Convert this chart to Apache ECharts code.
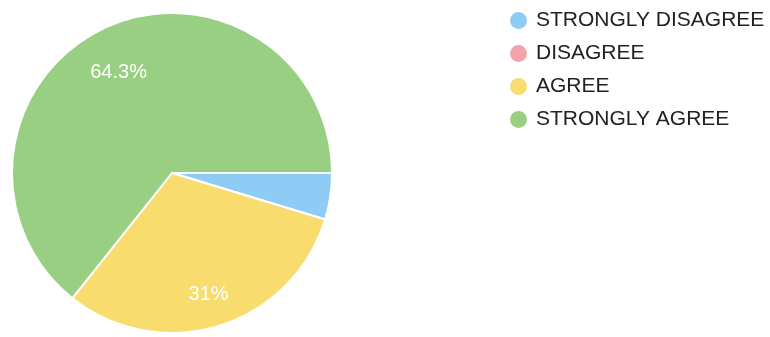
<!DOCTYPE html>
<html>
<head>
<meta charset="utf-8">
<script src="https://cdn.jsdelivr.net/npm/echarts@6/dist/echarts.min.js"></script>
<style>html,body{margin:0;padding:0;background:#fff;}#c{width:770px;height:337px;}</style>
</head>
<body>
<div id="c"></div>
<script>
const categories = ['STRONGLY DISAGREE', 'DISAGREE', 'AGREE', 'STRONGLY AGREE'];
const values = [4.7, 0, 31, 64.3];
const colors = ['#8ecbf5', '#f4a3ad', '#f9dc6e', '#98cf82'];
const labelShown = [false, false, true, true];

const chart = echarts.init(document.getElementById('c'));
const base = categories.map((n, i) => ({ name: n, value: values[i], itemStyle: { color: colors[i] } }));
chart.setOption({
  backgroundColor: '#ffffff',
  animation: false,
  color: colors,
  legend: {
    orient: 'vertical',
    left: 503,
    top: 5,
    icon: 'circle',
    itemWidth: 19,
    itemHeight: 19,
    itemGap: 12,
    data: categories,
    textStyle: { fontFamily: 'Liberation Sans, Arial, sans-serif', fontSize: 21, color: '#222', padding: [0, 0, 0, 3] }
  },
  series: [
    {
      type: 'pie',
      center: [172, 173],
      radius: [0, 160],
      startAngle: 0,
      clockwise: true,
      avoidLabelOverlap: false,
      label: { show: false },
      labelLine: { show: false },
      itemStyle: { borderColor: '#ffffff', borderWidth: 2 },
      emphasis: { disabled: true },
      data: base
    },
    {
      type: 'pie',
      center: [172, 173],
      radius: [80, 160],
      startAngle: 0,
      clockwise: true,
      silent: true,
      avoidLabelOverlap: false,
      legendHoverLink: false,
      itemStyle: { color: 'rgba(0,0,0,0)', borderWidth: 0 },
      labelLine: { show: false },
      label: {
        position: 'inside',
        color: '#ffffff',
        fontFamily: 'Liberation Sans, Arial, sans-serif',
        fontSize: 20,
        lineHeight: 22,
        formatter: p => '{s' + p.dataIndex + '|}\n' + p.value + '%',
        rich: {
          s2: { lineHeight: 8, fontSize: 2 },
          s3: { lineHeight: 20, fontSize: 2 }
        }
      },
      data: categories.map((n, i) => ({ name: n, value: values[i], label: { show: labelShown[i] } }))
    }
  ]
});
</script>
</body>
</html>
